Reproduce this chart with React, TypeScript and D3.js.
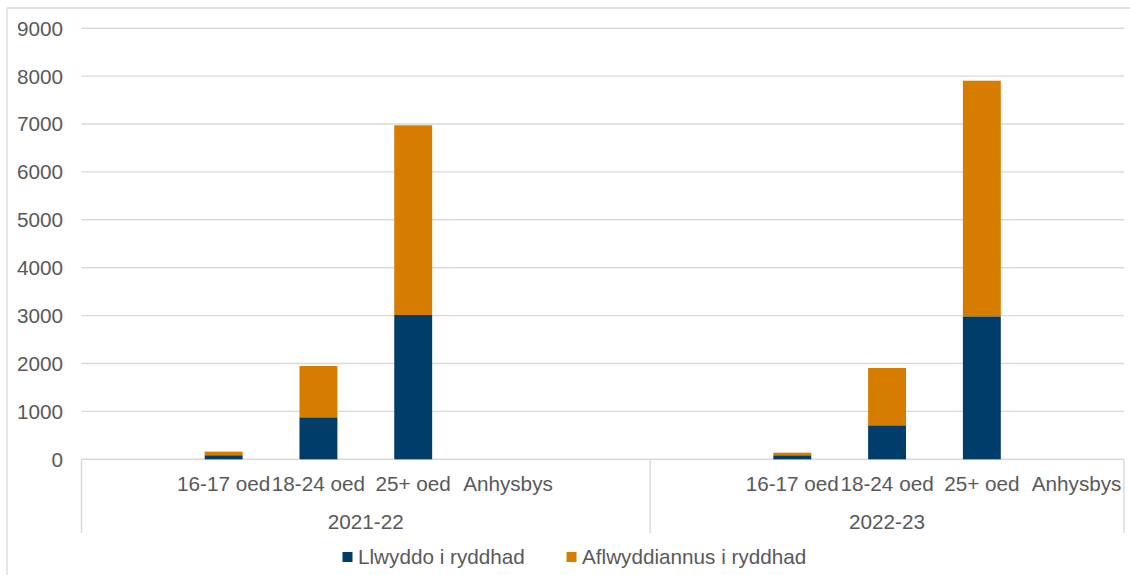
import React from "react";
import * as d3 from "d3";

const categories = ["16-17 oed", "18-24 oed", "25+ oed", "Anhysbys"];
const years = ["2021-22", "2022-23"];
const llwyddo2021 = [85, 877, 3013, 0];
const aflwyddiannus2021 = [75, 1071, 3960, 0];
const llwyddo2022 = [84, 710, 2985, 0];
const aflwyddiannus2022 = [54, 1196, 4919, 0];
const seriesNames = ["Llwyddo i ryddhad", "Aflwyddiannus i ryddhad"];
const yTicks = [0, 1000, 2000, 3000, 4000, 5000, 6000, 7000, 8000, 9000];

const colors = ["#003D6B", "#D67D00"];
const textColor = "#595959";
const gridColor = "#D9D9D9";
const font = "'Liberation Sans', Arial, sans-serif";
const fs = 20.7;

type Slot = { id: string; year: number; cat: number | null };

export default function App() {
  const W = 1130;
  const H = 575;
  const left = 81.5;
  const right = 1124;
  const y0 = 459.3;
  const yTop = 28.2;

  // Category slots: blank slot before categories in each year, blank slot after first year
  const slots: Slot[] = [];
  years.forEach((_, yi) => {
    slots.push({ id: `${yi}-pre`, year: yi, cat: null });
    categories.forEach((_, ci) => slots.push({ id: `${yi}-${ci}`, year: yi, cat: ci }));
    if (yi === 0) slots.push({ id: `${yi}-post`, year: yi, cat: null });
  });

  const x = d3.scaleBand<string>().domain(slots.map((s) => s.id)).range([left, right]).padding(0);
  const y = d3.scaleLinear().domain([0, 9000]).range([y0, yTop]);
  const bw = x.bandwidth() * 0.4;

  const values = [
    [llwyddo2021, aflwyddiannus2021],
    [llwyddo2022, aflwyddiannus2022],
  ];

  const bars: React.ReactNode[] = [];
  years.forEach((_, yi) => {
    const rows = categories.map((c, ci) => ({
      key: `${yi}-${ci}`,
      s0: values[yi][0][ci],
      s1: values[yi][1][ci],
    }));
    const stack = d3.stack<any>().keys(["s0", "s1"])(rows);
    stack.forEach((layer, li) => {
      layer.forEach((d, di) => {
        const id = rows[di].key;
        const cx = (x(id) as number) + x.bandwidth() / 2;
        const h = y(d[0]) - y(d[1]);
        if (h <= 0) return;
        bars.push(
          <rect
            key={`${id}-${li}`}
            x={cx - bw / 2}
            y={y(d[1])}
            width={bw}
            height={h}
            fill={colors[li]}
          />
        );
      });
    });
  });

  // group boundaries
  const groupBounds = years.map((_, yi) => {
    const ids = slots.filter((s) => s.year === yi).map((s) => s.id);
    const start = x(ids[0]) as number;
    const end = (x(ids[ids.length - 1]) as number) + x.bandwidth();
    return [start, end];
  });

  return (
    <svg
      width={W}
      height={H}
      style={{ position: "absolute", left: 0, top: 0, background: "#fff" }}
      fontFamily={font}
    >
      <rect x={0} y={0} width={W} height={H} fill="#fff" />
      {/* outer border */}
      <line x1={7} x2={W} y1={8} y2={8} stroke={gridColor} strokeWidth={1.3} />
      <line x1={7} x2={7} y1={8} y2={H} stroke={gridColor} strokeWidth={1.3} />

      {/* gridlines */}
      {yTicks.map((t) => (
        <line key={t} x1={left} x2={right} y1={y(t)} y2={y(t)} stroke={gridColor} strokeWidth={1.4} />
      ))}
      {/* y labels */}
      {yTicks.map((t) => (
        <text
          key={`l${t}`}
          x={63}
          y={y(t)}
          dy="0.36em"
          textAnchor="end"
          fontSize={fs}
          fill={textColor}
        >
          {t}
        </text>
      ))}

      {bars}

      {/* category axis dividers */}
      {[left, groupBounds[0][1], right].map((gx, i) => (
        <line key={`d${i}`} x1={gx} x2={gx} y1={y0} y2={533} stroke={gridColor} strokeWidth={1.4} />
      ))}

      {/* category labels */}
      {slots
        .filter((s) => s.cat !== null)
        .map((s) => (
          <text
            key={`c${s.id}`}
            x={(x(s.id) as number) + x.bandwidth() / 2}
            y={490.5}
            textAnchor="middle"
            fontSize={fs}
            fill={textColor}
          >
            {categories[s.cat as number]}
          </text>
        ))}
      {/* year labels */}
      {years.map((yr, yi) => (
        <text
          key={yr}
          x={(groupBounds[yi][0] + groupBounds[yi][1]) / 2}
          y={529}
          textAnchor="middle"
          fontSize={fs}
          fill={textColor}
        >
          {yr}
        </text>
      ))}

      {/* legend */}
      <g>
        <rect x={342.5} y={552} width={10} height={10} fill={colors[0]} />
        <text x={358} y={564} fontSize={fs} fill={textColor}>
          {seriesNames[0]}
        </text>
        <rect x={566.5} y={552} width={10} height={10} fill={colors[1]} />
        <text x={582} y={564} fontSize={fs} fill={textColor}>
          {seriesNames[1]}
        </text>
      </g>
    </svg>
  );
}
